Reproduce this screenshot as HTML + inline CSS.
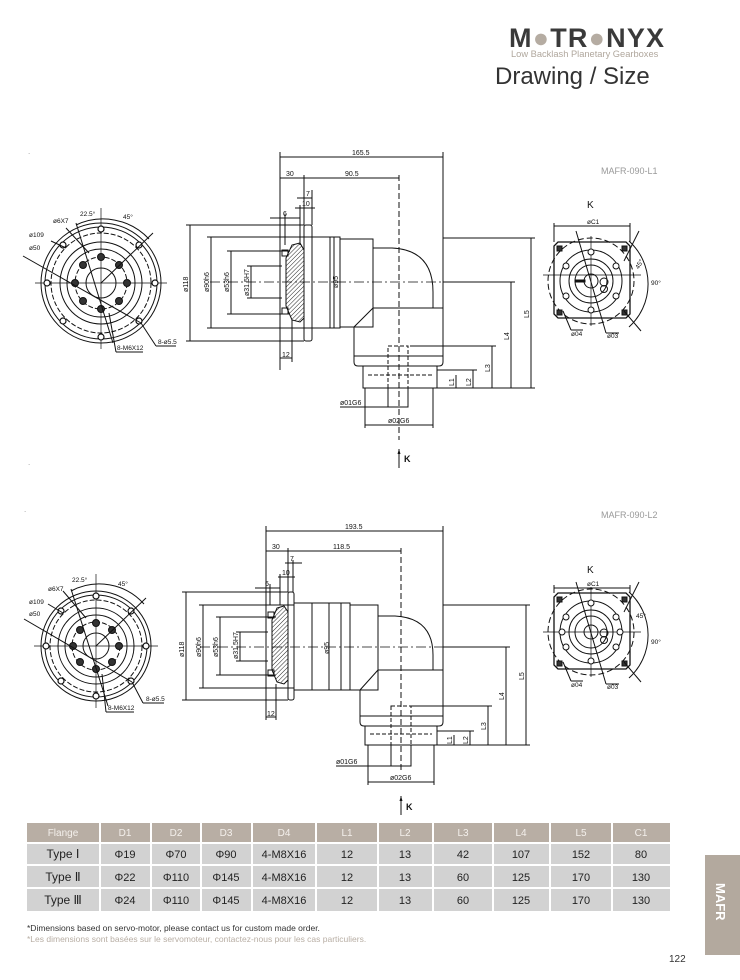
<!DOCTYPE html>
<html><head><meta charset="utf-8"><style>
body{margin:0;background:#fff;}
#p{position:relative;width:740px;height:980px;overflow:hidden;background:#fff;font-family:"Liberation Sans",sans-serif;}
svg{position:absolute;left:0;top:0;}
</style></head><body><div id="p">
<svg width="740" height="980" viewBox="0 0 740 980" xmlns="http://www.w3.org/2000/svg">
<defs>
<pattern id="h" width="3" height="3" patternUnits="userSpaceOnUse" patternTransform="rotate(45)"><line x1="0" y1="0" x2="0" y2="3" stroke="#222" stroke-width="1"/></pattern>
<marker id="a" markerWidth="6" markerHeight="6" refX="5" refY="3" orient="auto"><path d="M0,1.5 L5,3 L0,4.5z" fill="#111"/></marker>
</defs>
<!-- header -->
<text x="509" y="47" font-size="27" font-weight="bold" fill="#3a3a3a" letter-spacing="1.2">M<tspan fill="#b5aca2">●</tspan>TR<tspan fill="#b5aca2">●</tspan>NYX</text>
<text x="511" y="57" font-size="9.3" fill="#b0a79d">Low Backlash Planetary Gearboxes</text>
<text x="495" y="84" font-size="24" fill="#333">Drawing / Size</text>
<text x="601" y="174" font-size="9" fill="#999">MAFR-090-L1</text>
<text x="601" y="518" font-size="9" fill="#999">MAFR-090-L2</text>

<g fill="none" stroke="#111" stroke-width="1" font-size="7" font-family="Liberation Sans">
<!-- ========== Drawing 1 side ========== -->
<g>
<line x1="280" y1="152" x2="280" y2="370"/><line x1="443" y1="152" x2="443" y2="308"/>
<line x1="280" y1="157" x2="443" y2="157"/>
<line x1="280" y1="178" x2="399" y2="178"/><line x1="399" y1="175" x2="399" y2="440" stroke-dasharray="6,3"/>
<line x1="304" y1="175" x2="304" y2="225"/><line x1="312" y1="190" x2="312" y2="225"/><line x1="297" y1="198" x2="312" y2="198"/>
<line x1="295" y1="208" x2="315" y2="208"/><line x1="300" y1="205" x2="300" y2="245"/>
<line x1="270" y1="218" x2="300" y2="218"/><line x1="285" y1="214" x2="285" y2="245"/>
<rect x="304" y="225" width="8" height="116" rx="2"/>
<path d="M286,258 L292,245 L300,243 L304,250 L304,318 L300,322 L292,320 L286,306 Z" fill="url(#h)"/>
<rect x="282" y="250" width="6" height="6"/><rect x="282" y="308" width="6" height="6"/>
<rect x="312" y="237" width="28" height="91"/><line x1="330" y1="237" x2="330" y2="328"/><line x1="334" y1="237" x2="334" y2="328"/>
<rect x="340" y="239" width="33" height="88"/>
<path d="M373,248 L392,248 Q433,250 433,292 L433,308"/>
<path d="M373,308 L443,308 L443,362 Q443,366 439,366 L358,366 Q354,366 354,362 L354,327 L373,308"/>
<line x1="340" y1="327" x2="354" y2="327"/><line x1="354" y1="356" x2="443" y2="356"/>
<rect x="363" y="366" width="74" height="22"/><line x1="368" y1="375" x2="432" y2="375" stroke-dasharray="4,2"/>
<rect x="388" y="346" width="20" height="61" stroke-dasharray="4,2"/>
<line x1="210" y1="282" x2="470" y2="282" stroke-dasharray="10,3,2,3" stroke-width="0.7"/>
<line x1="186" y1="225" x2="304" y2="225"/><line x1="186" y1="341" x2="304" y2="341"/><line x1="190" y1="225" x2="190" y2="341"/>
<line x1="207" y1="237" x2="312" y2="237"/><line x1="207" y1="328" x2="312" y2="328"/><line x1="211" y1="237" x2="211" y2="328"/>
<line x1="227" y1="251" x2="290" y2="251"/><line x1="227" y1="314" x2="290" y2="314"/><line x1="231" y1="251" x2="231" y2="314"/>
<line x1="247" y1="266" x2="282" y2="266"/><line x1="247" y1="298" x2="282" y2="298"/><line x1="251" y1="266" x2="251" y2="298"/>
<line x1="292" y1="320" x2="292" y2="362"/><line x1="280" y1="358" x2="292" y2="358"/>
<line x1="443" y1="238" x2="535" y2="238"/><line x1="531" y1="238" x2="531" y2="388"/>
<line x1="443" y1="282" x2="515" y2="282"/><line x1="511" y1="282" x2="511" y2="388"/>
<line x1="410" y1="346" x2="496" y2="346"/><line x1="492" y1="346" x2="492" y2="388"/>
<line x1="437" y1="370" x2="477" y2="370"/><line x1="473" y1="370" x2="473" y2="388"/><line x1="456" y1="375" x2="456" y2="388"/>
<line x1="437" y1="388" x2="535" y2="388"/>
<line x1="408" y1="407" x2="408" y2="388"/><line x1="388" y1="407" x2="388" y2="388"/><line x1="340" y1="407" x2="408" y2="407"/>
<line x1="365" y1="388" x2="365" y2="428"/><line x1="433" y1="388" x2="433" y2="428"/><line x1="365" y1="425" x2="433" y2="425"/>
<line x1="399" y1="468" x2="399" y2="449" marker-end="url(#a)"/>
</g>
<g fill="#111" stroke="none">
<text x="352" y="155">165.5</text><text x="286" y="176">30</text><text x="345" y="176">90.5</text>
<text x="306" y="196">7</text><text x="302" y="206">10</text><text x="283" y="216">6</text><text x="282" y="357">12</text>
<text transform="translate(188,292) rotate(-90)">ø118</text><text transform="translate(209,292) rotate(-90)">ø90h6</text>
<text transform="translate(229,292) rotate(-90)">ø53h6</text><text transform="translate(249,296) rotate(-90)">ø31.5H7</text>
<text transform="translate(338,288) rotate(-90)">ø95</text>
<text transform="translate(529,318) rotate(-90)">L5</text><text transform="translate(509,340) rotate(-90)">L4</text>
<text transform="translate(490,372) rotate(-90)">L3</text><text transform="translate(471,386) rotate(-90)">L2</text><text transform="translate(454,386) rotate(-90)">L1</text>
<text x="340" y="405">ø01G6</text><text x="388" y="423">ø02G6</text>
<text x="404" y="462" font-size="9" font-weight="bold">K</text>
</g>

<!-- ========== Drawing 2 side ========== -->
<g>
<line x1="266" y1="526" x2="266" y2="720"/><line x1="443" y1="526" x2="443" y2="670"/>
<line x1="266" y1="531" x2="443" y2="531"/>
<line x1="266" y1="551" x2="401" y2="551"/><line x1="401" y1="548" x2="401" y2="770" stroke-dasharray="6,3"/>
<line x1="288" y1="548" x2="288" y2="592"/><line x1="293" y1="560" x2="293" y2="592"/><line x1="285" y1="563" x2="302" y2="563"/>
<line x1="278" y1="577" x2="295" y2="577"/><line x1="280" y1="574" x2="280" y2="605"/>
<line x1="255" y1="588" x2="280" y2="588"/><line x1="270" y1="584" x2="270" y2="605"/>
<rect x="288" y="592" width="6" height="108" rx="2"/>
<path d="M272,620 L277,608 L284,606 L288,612 L288,680 L284,684 L277,682 L272,670 Z" fill="url(#h)"/>
<rect x="268" y="612" width="6" height="6"/><rect x="268" y="670" width="6" height="6"/>
<rect x="294" y="603" width="56" height="87"/><line x1="312" y1="603" x2="312" y2="690"/><line x1="329" y1="603" x2="329" y2="690"/><line x1="341" y1="603" x2="341" y2="690"/>
<rect x="350" y="605" width="28" height="85"/>
<path d="M378,616 L395,616 Q433,618 433,655 L433,670"/>
<path d="M378,670 L443,670 L443,722 Q443,726 439,726 L364,726 Q360,726 360,722 L360,690 L378,670"/>
<line x1="350" y1="690" x2="360" y2="690"/><line x1="360" y1="716" x2="443" y2="716"/>
<rect x="365" y="726" width="72" height="19"/><line x1="370" y1="734" x2="432" y2="734" stroke-dasharray="4,2"/>
<rect x="391" y="706" width="20" height="60" stroke-dasharray="4,2"/>
<line x1="200" y1="647" x2="470" y2="647" stroke-dasharray="10,3,2,3" stroke-width="0.7"/>
<line x1="182" y1="592" x2="288" y2="592"/><line x1="182" y1="700" x2="288" y2="700"/><line x1="186" y1="592" x2="186" y2="700"/>
<line x1="199" y1="605" x2="294" y2="605"/><line x1="199" y1="688" x2="294" y2="688"/><line x1="203" y1="605" x2="203" y2="688"/>
<line x1="216" y1="617" x2="276" y2="617"/><line x1="216" y1="675" x2="276" y2="675"/><line x1="220" y1="617" x2="220" y2="675"/>
<line x1="236" y1="632" x2="268" y2="632"/><line x1="236" y1="661" x2="268" y2="661"/><line x1="240" y1="632" x2="240" y2="661"/>
<line x1="276" y1="684" x2="276" y2="720"/><line x1="266" y1="717" x2="276" y2="717"/>
<line x1="443" y1="605" x2="530" y2="605"/><line x1="526" y1="605" x2="526" y2="745"/>
<line x1="443" y1="647" x2="510" y2="647"/><line x1="506" y1="647" x2="506" y2="745"/>
<line x1="411" y1="706" x2="492" y2="706"/><line x1="488" y1="706" x2="488" y2="745"/>
<line x1="437" y1="731" x2="474" y2="731"/><line x1="470" y1="731" x2="470" y2="745"/><line x1="454" y1="735" x2="454" y2="745"/>
<line x1="437" y1="745" x2="530" y2="745"/>
<line x1="411" y1="766" x2="411" y2="745"/><line x1="391" y1="766" x2="391" y2="745"/><line x1="336" y1="766" x2="411" y2="766"/>
<line x1="368" y1="745" x2="368" y2="785"/><line x1="434" y1="745" x2="434" y2="785"/><line x1="368" y1="782" x2="434" y2="782"/>
<line x1="401" y1="815" x2="401" y2="796" marker-end="url(#a)"/>
</g>
<g fill="#111" stroke="none">
<text x="345" y="529">193.5</text><text x="272" y="549">30</text><text x="333" y="549">118.5</text>
<text x="290" y="561">7</text><text x="282" y="575">10</text><text x="265" y="586">6</text><text x="267" y="716">12</text>
<text transform="translate(184,657) rotate(-90)">ø118</text><text transform="translate(201,657) rotate(-90)">ø90h6</text>
<text transform="translate(218,657) rotate(-90)">ø53h6</text><text transform="translate(238,659) rotate(-90)">ø31.5H7</text>
<text transform="translate(329,654) rotate(-90)">ø95</text>
<text transform="translate(524,680) rotate(-90)">L5</text><text transform="translate(504,700) rotate(-90)">L4</text>
<text transform="translate(486,730) rotate(-90)">L3</text><text transform="translate(468,744) rotate(-90)">L2</text><text transform="translate(452,744) rotate(-90)">L1</text>
<text x="336" y="764">ø01G6</text><text x="390" y="780">ø02G6</text>
<text x="406" y="810" font-size="9" font-weight="bold">K</text>
</g>

<!-- ========== circle views ========== -->
<g transform="translate(101,283)">
<circle r="60"/><circle r="56"/><circle r="50" stroke-dasharray="5,2"/><circle r="41"/><circle r="34"/><circle r="26" stroke-dasharray="5,2"/><circle r="15"/>
<line x1="-66" y1="0" x2="66" y2="0" stroke-width="0.7"/><line x1="0" y1="-75" x2="0" y2="66" stroke-width="0.7"/>
<g fill="#fff" stroke-width="1.2"><circle cx="0" cy="-54" r="3"/><circle cx="38" cy="-38" r="3"/><circle cx="54" cy="0" r="3"/><circle cx="38" cy="38" r="3"/><circle cx="0" cy="54" r="3"/><circle cx="-38" cy="38" r="3"/><circle cx="-54" cy="0" r="3"/><circle cx="-38" cy="-38" r="3"/></g>
<g fill="#333"><circle cx="0" cy="-26" r="3.5"/><circle cx="18" cy="-18" r="3.5"/><circle cx="26" cy="0" r="3.5"/><circle cx="18" cy="18" r="3.5"/><circle cx="0" cy="26" r="3.5"/><circle cx="-18" cy="18" r="3.5"/><circle cx="-26" cy="0" r="3.5"/><circle cx="-18" cy="-18" r="3.5"/></g>
<path d="M-25,-58 A63,63 0 0 1 48,-44"/><line x1="-25" y1="-60" x2="12" y2="60"/><line x1="0" y1="0" x2="52" y2="-50"/>
<line x1="-78" y1="-27" x2="40" y2="40"/><line x1="40" y1="40" x2="55" y2="63"/><line x1="55" y1="63" x2="75" y2="63"/>
<line x1="-50" y1="-42" x2="-35" y2="-35"/><line x1="-35" y1="-55" x2="-12" y2="-30"/>
<line x1="8" y1="30" x2="15" y2="69"/><line x1="15" y1="69" x2="42" y2="69"/>
<g fill="#111" stroke="none" font-size="6.5"><text x="-21" y="-67">22.5°</text><text x="22" y="-64">45°</text><text x="-48" y="-60">ø6X7</text><text x="-72" y="-46">ø109</text><text x="-72" y="-33">ø50</text><text x="57" y="61">8-ø5.5</text><text x="16" y="67">8-M6X12</text></g>
</g>
<g transform="translate(96,646)">
<circle r="55"/><circle r="51"/><circle r="46" stroke-dasharray="5,2"/><circle r="38"/><circle r="31"/><circle r="24" stroke-dasharray="5,2"/><circle r="13"/>
<line x1="-62" y1="0" x2="62" y2="0" stroke-width="0.7"/><line x1="0" y1="-72" x2="0" y2="62" stroke-width="0.7"/>
<g fill="#fff" stroke-width="1.2"><circle cx="0" cy="-50" r="3"/><circle cx="35" cy="-35" r="3"/><circle cx="50" cy="0" r="3"/><circle cx="35" cy="35" r="3"/><circle cx="0" cy="50" r="3"/><circle cx="-35" cy="35" r="3"/><circle cx="-50" cy="0" r="3"/><circle cx="-35" cy="-35" r="3"/></g>
<g fill="#333"><circle cx="0" cy="-23" r="3.5"/><circle cx="16" cy="-16" r="3.5"/><circle cx="23" cy="0" r="3.5"/><circle cx="16" cy="16" r="3.5"/><circle cx="0" cy="23" r="3.5"/><circle cx="-16" cy="16" r="3.5"/><circle cx="-23" cy="0" r="3.5"/><circle cx="-16" cy="-16" r="3.5"/></g>
<path d="M-25,-55 A60,60 0 0 1 48,-42"/><line x1="-25" y1="-57" x2="12" y2="60"/><line x1="0" y1="0" x2="50" y2="-48"/>
<line x1="-72" y1="-27" x2="36" y2="36"/><line x1="36" y1="36" x2="47" y2="57"/><line x1="47" y1="57" x2="68" y2="57"/>
<line x1="-48" y1="-42" x2="-33" y2="-33"/><line x1="-33" y1="-55" x2="-10" y2="-28"/>
<line x1="6" y1="28" x2="10" y2="66"/><line x1="10" y1="66" x2="38" y2="66"/>
<g fill="#111" stroke="none" font-size="6.5"><text x="-24" y="-64">22.5°</text><text x="22" y="-60">45°</text><text x="-48" y="-55">ø6X7</text><text x="-67" y="-42">ø109</text><text x="-67" y="-30">ø50</text><text x="50" y="55">8-ø5.5</text><text x="12" y="64">8-M6X12</text></g>
</g>

<!-- ========== square K views ========== -->
<g transform="translate(591,281)">
<path d="M-33,-39 L35,-39 L39,-35 L39,33 L35,37 L-33,37 L-37,33 L-37,-35 Z" stroke-width="1.3"/>
<circle r="43" stroke-dasharray="6,3"/><circle r="31"/><circle r="22"/><circle r="16"/><circle r="7"/>
<circle cx="13" cy="1" r="4"/><circle cx="13" cy="8" r="3.5"/><rect x="-16" y="-1" width="10" height="2" fill="#111"/>
<line x1="-48" y1="-6" x2="50" y2="-6" stroke-width="0.7"/><line x1="0" y1="-45" x2="0" y2="45" stroke-width="0.7"/>
<g fill="#fff"><circle cx="0" cy="-29" r="3"/><circle cx="0" cy="29" r="3"/><circle cx="-25" cy="-15" r="3"/><circle cx="25" cy="-15" r="3"/><circle cx="-25" cy="15" r="3"/><circle cx="25" cy="15" r="3"/></g>
<g fill="#333"><rect x="-34" y="-35" width="5" height="5"/><rect x="31" y="-35" width="5" height="5"/><rect x="-34" y="29" width="5" height="5"/><rect x="31" y="29" width="5" height="5"/></g>
<line x1="-37" y1="-55" x2="39" y2="-55"/><line x1="-37" y1="-58" x2="-37" y2="-39"/><line x1="39" y1="-58" x2="39" y2="-39"/>
<path d="M38,-40 A58,58 0 0 1 38,46"/><line x1="33" y1="-20" x2="48" y2="-50"/><line x1="33" y1="30" x2="50" y2="50"/>
<line x1="-15" y1="-50" x2="15" y2="52"/><line x1="15" y1="52" x2="28" y2="52"/><line x1="-28" y1="30" x2="-20" y2="49"/><line x1="-20" y1="49" x2="-8" y2="49"/>
<g fill="#111" stroke="none" font-size="6.5"><text x="-4" y="-73" font-size="10">K</text><text x="-4" y="-57">øC1</text><text x="44" y="-14" transform="rotate(-60 48 -16)">45°</text><text x="60" y="4">90°</text><text x="-20" y="55">ø04</text><text x="16" y="57">ø03</text></g>
</g>
<g transform="translate(591,632)">
<path d="M-33,-39 L35,-39 L39,-35 L39,33 L35,37 L-33,37 L-37,33 L-37,-35 Z" stroke-width="1.3"/>
<circle r="43" stroke-dasharray="6,3"/><circle r="31"/><circle r="22"/><circle r="16"/><circle r="7"/>
<circle cx="13" cy="1" r="4"/><circle cx="13" cy="8" r="3.5"/>
<line x1="-48" y1="0" x2="50" y2="0" stroke-width="0.7"/><line x1="0" y1="-45" x2="0" y2="45" stroke-width="0.7"/>
<g fill="#fff"><circle cx="0" cy="-29" r="3"/><circle cx="0" cy="29" r="3"/><circle cx="-25" cy="-15" r="3"/><circle cx="25" cy="-15" r="3"/><circle cx="-25" cy="15" r="3"/><circle cx="25" cy="15" r="3"/><circle cx="-29" cy="0" r="3"/><circle cx="29" cy="0" r="3"/></g>
<g fill="#333"><rect x="-34" y="-35" width="5" height="5"/><rect x="31" y="-35" width="5" height="5"/><rect x="-34" y="29" width="5" height="5"/><rect x="31" y="29" width="5" height="5"/></g>
<line x1="-37" y1="-44" x2="39" y2="-44"/><line x1="-37" y1="-47" x2="-37" y2="-39"/><line x1="39" y1="-47" x2="39" y2="-39"/>
<path d="M38,-40 A58,58 0 0 1 38,46"/><line x1="33" y1="-20" x2="48" y2="-50"/><line x1="33" y1="30" x2="50" y2="50"/>
<line x1="-15" y1="-50" x2="15" y2="52"/><line x1="15" y1="52" x2="28" y2="52"/><line x1="-28" y1="30" x2="-20" y2="49"/><line x1="-20" y1="49" x2="-8" y2="49"/>
<g fill="#111" stroke="none" font-size="6.5"><text x="-4" y="-59" font-size="10">K</text><text x="-4" y="-46">øC1</text><text x="45" y="-14">45°</text><text x="60" y="12">90°</text><text x="-20" y="55">ø04</text><text x="16" y="57">ø03</text></g>
</g>
</g>

<!-- ========== table ========== -->
<g font-size="11" text-anchor="middle">
<rect x="27" y="823" width="643" height="19" fill="#b8aea4"/>
<rect x="27" y="844" width="643" height="20" fill="#d2d2d2"/>
<rect x="27" y="866" width="643" height="21" fill="#d2d2d2"/>
<rect x="27" y="889" width="643" height="22" fill="#d2d2d2"/>
<g stroke="#fff" stroke-width="2"><line x1="100" y1="823" x2="100" y2="911"/><line x1="151" y1="823" x2="151" y2="911"/><line x1="201" y1="823" x2="201" y2="911"/><line x1="252" y1="823" x2="252" y2="911"/><line x1="316" y1="823" x2="316" y2="911"/><line x1="378" y1="823" x2="378" y2="911"/><line x1="433" y1="823" x2="433" y2="911"/><line x1="493" y1="823" x2="493" y2="911"/><line x1="550" y1="823" x2="550" y2="911"/><line x1="612" y1="823" x2="612" y2="911"/></g>
<g fill="#f4f0ec" font-size="10"><text x="63" y="836">Flange</text><text x="125" y="836">D1</text><text x="176" y="836">D2</text><text x="226" y="836">D3</text><text x="284" y="836">D4</text><text x="347" y="836">L1</text><text x="405" y="836">L2</text><text x="463" y="836">L3</text><text x="521" y="836">L4</text><text x="581" y="836">L5</text><text x="641" y="836">C1</text></g>
<g fill="#222"><text x="63" y="858" font-size="12">Type Ⅰ</text><text x="125" y="858">Φ19</text><text x="176" y="858">Φ70</text><text x="226" y="858">Φ90</text><text x="284" y="858">4-M8X16</text><text x="347" y="858">12</text><text x="405" y="858">13</text><text x="463" y="858">42</text><text x="521" y="858">107</text><text x="581" y="858">152</text><text x="641" y="858">80</text></g>
<g fill="#222"><text x="63" y="881" font-size="12">Type Ⅱ</text><text x="125" y="881">Φ22</text><text x="176" y="881">Φ110</text><text x="226" y="881">Φ145</text><text x="284" y="881">4-M8X16</text><text x="347" y="881">12</text><text x="405" y="881">13</text><text x="463" y="881">60</text><text x="521" y="881">125</text><text x="581" y="881">170</text><text x="641" y="881">130</text></g>
<g fill="#222"><text x="63" y="904" font-size="12">Type Ⅲ</text><text x="125" y="904">Φ24</text><text x="176" y="904">Φ110</text><text x="226" y="904">Φ145</text><text x="284" y="904">4-M8X16</text><text x="347" y="904">12</text><text x="405" y="904">13</text><text x="463" y="904">60</text><text x="521" y="904">125</text><text x="581" y="904">170</text><text x="641" y="904">130</text></g>
</g>
<text x="27" y="931" font-size="8.5" fill="#333">*Dimensions based on servo-motor,  please contact us for custom made order.</text>
<text x="27" y="942" font-size="8.5" fill="#b8aea4">*Les dimensions sont basées sur le servomoteur, contactez-nous pour les cas particuliers.</text>
<rect x="705" y="855" width="35" height="100" fill="#b3a99e"/>
<text transform="translate(716,883) rotate(90)" font-size="13" font-weight="bold" fill="#fff">MAFR</text>
<text x="669" y="962" font-size="10" fill="#333">122</text>
<text x="28" y="154" font-size="8" fill="#999">.</text><text x="28" y="465" font-size="8" fill="#999">.</text><text x="24" y="512" font-size="8" fill="#999">.</text>
</svg>
</div></body></html>
